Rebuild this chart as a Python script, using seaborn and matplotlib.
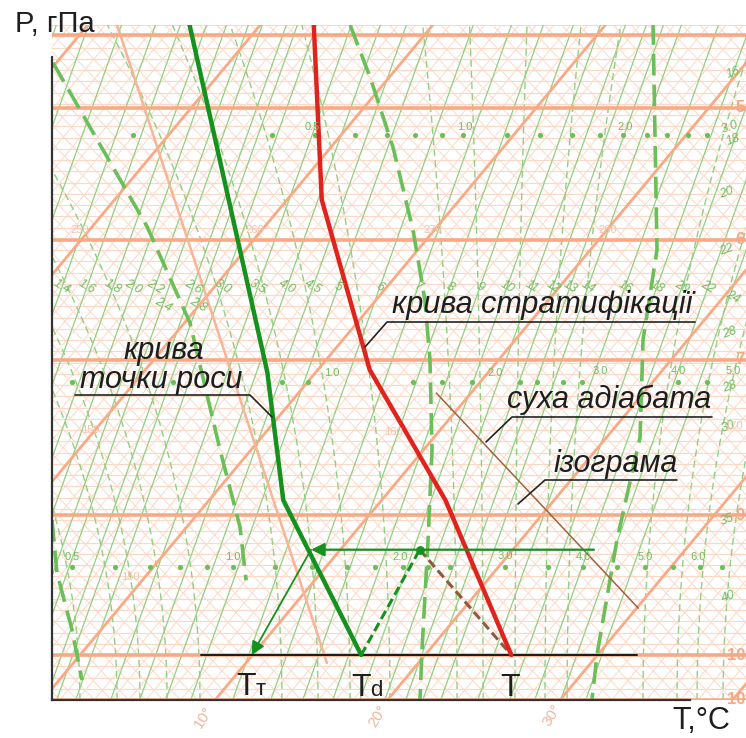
import numpy as np
import pandas as pd
import matplotlib
matplotlib.use("Agg")
import matplotlib.pyplot as plt
import seaborn as sns

# ---------------- diagram frame (temperature scale along bottom isobar, pressure) --------------
P_BOTTOM, P_TOP = 1050.0, 300.0
T_LEFT, T_RIGHT = 0.55, 40.78
SKEW = 0.0435      # isotherm tilt  (deg per hPa)
ADIAB = 0.0492     # dry adiabat tilt
ISOG = 0.0186      # isogram tilt

# ---------------- sounding ----------------
strat_p = [1000, 828, 683, 494, 300]
strat_T = [25.0, 13.7, 3.0, -8.0, -16.9]
dew_p = [1000, 828, 686, 300]
dew_T = [16.3, 4.3, -2.8, -24.1]

surface_p = 1000
surface_T = [7.0, 32.3]
T_val, Td_val, Tt_val = 25.0, 16.3, 9.95
lcl_p, lcl_T = 883, 14.6
arrow_T = [24.7, 8.3]
adiabat_p = [709, 948]
adiabat_T = [8.0, 30.1]

# ---------------- background grid values ----------------
isobar_thick = [311, 392, 539, 672, 844, 1000, 1050]
isotherm_thick = [-30, -20, -10, 0, 10, 20, 30, 40]
isogram_lab = ["1.4", "1.6", "1.8", "2.0", "2.2", "2.4", "2.6", "2.8", "3.0", "3.5", "4.0", "4.5",
               "5", "6", "7", "8", "9", "10", "11", "12", "13", "14", "16", "18", "20", "22", "24"]
isogram_x = [1.13, 2.58, 4.09, 5.25, 6.52, 7.33, 8.72, 9.36, 10.46, 12.49, 14.17, 15.68,
             17.13, 19.56, 21.77, 23.62, 25.36, 26.93, 28.38, 29.59, 30.58, 31.62, 33.77, 35.62,
             37.07, 38.58, 40.03]
isogram_extra_x = [-7.68, -6.23, -4.61, -2.75, -0.83]
ISOGRAM_P = 591

moist_thin_x = [2.17, 4.32, 5.65, 7.22, 9.13, 13.88, 15.97, 17.83, 20.14, 24.03, 25.54, 27.39,
                29.13, 30.41, 34.81, 36.78, 37.94, 39.45]
moist_a_x = [0.61, 6.06, 8.55, 10.29, 11.45, 11.80]
moist_a_p = [342, 524, 631, 772, 858, 917]
moist_b_x = [0.55, 0.84, 1.71, 2.29]
moist_b_p = [850, 909, 972, 1028]
moist_c_x = [17.83, 18.99, 20.32, 21.48, 22.17, 22.46, 22.58, 22.35, 22.00, 21.88]
moist_c_p = [300, 358, 436, 528, 606, 672, 772, 872, 994, 1050]
moist_d_x = [35.39, 35.62, 34.81, 34.64, 33.30, 32.14, 31.85]
moist_d_p = [298, 550, 650, 758, 872, 1000, 1050]
steep_x = [4.32, 16.49]
steep_p = [300, 1009]

dots_902 = [1.71, 4.20, 6.23, 7.97, 9.54, 11.04, 13.48, 15.62, 17.65, 19.27, 20.90, 22.35, 23.62,
            24.96, 26.81, 29.30, 31.33, 33.30, 34.93, 36.55, 38.12, 39.39]
dots_697 = [1.71, 7.56, 13.88, 15.39, 21.48, 23.16, 24.90, 27.68, 28.67, 30.17, 31.28, 36.84, 38.52]
dots_422 = [5.25, 13.30, 15.80, 18.12, 19.97, 21.59, 23.16, 24.38, 26.93, 28.84, 30.70, 32.32,
            33.65, 35.04, 36.20, 37.42, 38.52]

temp_ticks = ["10°", "20°", "30°"]


def xs(T, p):
    return np.asarray(T, float) + SKEW * (P_BOTTOM - np.asarray(p, float))


# ---------------- figure ----------------
sns.set_theme(style="white")
plt.rcParams["font.family"] = ["Liberation Sans", "DejaVu Sans"]
W, H = 746, 738
fig = plt.figure(figsize=(W / 100, H / 100), dpi=100)
fig.patch.set_facecolor("white")
ax = fig.add_axes([52 / W, 1 - 700 / H, (W - 52) / W, 675 / H])
ax.set_xlim(T_LEFT, T_RIGHT)
ax.set_ylim(P_BOTTOM, P_TOP)
ax.set_facecolor("white")
ax.set_xticks([])
ax.set_yticks([])


def fx(x):
    return x / W


def fy(y):
    return 1 - y / H


PALE = "#fbd9c8"
ORANGE = "#f7aa85"
GREEN_L = "#93cf83"
GREEN_M = "#6bbf59"

# pale isobars
for p in np.arange(300, 1051, 12.5):
    ax.axhline(p, color=PALE, lw=0.9, zorder=1)
# pale isotherms and dry adiabats (triangular mesh)
pp = np.array([P_BOTTOM, P_TOP])
for t in np.arange(-34, 42, 1.0):
    ax.plot(t + SKEW * (P_BOTTOM - pp), pp, color=PALE, lw=0.7, zorder=1)
for th in np.arange(0, 80, 1.0):
    ax.plot(th - ADIAB * (P_BOTTOM - pp), pp, color=PALE, lw=0.7, zorder=1)

# green isograms
for x0 in list(isogram_x) + isogram_extra_x:
    ax.plot(x0 + ISOG * (ISOGRAM_P - pp), pp, color=GREEN_L, lw=0.9, zorder=2)

# thin dashed moist adiabats
pl = np.linspace(P_BOTTOM, P_TOP, 40)
hh = (P_BOTTOM - pl) / (P_BOTTOM - P_TOP)
xc = 26.52
for xb in moist_thin_x:
    ax.plot(xb + (xb - xc) * 0.8 * hh ** 2, pl, color=GREEN_L, lw=1.0,
            dashes=(5, 3), zorder=2)

# thick isobars / isotherms / steep line
for p in isobar_thick:
    ax.axhline(p, color=ORANGE, lw=2.6, zorder=3)
for t in isotherm_thick:
    ax.plot(t + SKEW * (P_BOTTOM - pp), pp, color=ORANGE, lw=2.0, zorder=3)
ax.plot(steep_x, steep_p, color="#f7b497", lw=1.8, zorder=3)

# thick dashed moist adiabats
for mx, mp in [(moist_a_x, moist_a_p), (moist_b_x, moist_b_p),
               (moist_c_x, moist_c_p), (moist_d_x, moist_d_p)]:
    ax.plot(mx, mp, color=GREEN_M, lw=2.6, dashes=(6, 2.5), zorder=3)

# dot rows
for dots, p in [(dots_902, 902), (dots_697, 697), (dots_422, 422)]:
    ax.scatter(dots, [p] * len(dots), s=14, color=GREEN_M, zorder=4, linewidths=0)

# ---------------- sounding curves ----------------
df_s = pd.DataFrame({"x": xs(strat_T, strat_p), "p": strat_p})
df_d = pd.DataFrame({"x": xs(dew_T, dew_p), "p": dew_p})
sns.lineplot(data=df_s, x="x", y="p", sort=False, estimator=None, color="#e0231d", lw=3.2,
             ax=ax, zorder=8)
sns.lineplot(data=df_d, x="x", y="p", sort=False, estimator=None, color="#14911f", lw=3.2,
             ax=ax, zorder=8)
ax.set_xlim(T_LEFT, T_RIGHT)
ax.set_ylim(P_BOTTOM, P_TOP)
ax.set_xlabel("")
ax.set_ylabel("")

# surface line
ax.plot(xs(surface_T, [surface_p] * 2), [surface_p] * 2, color="#1a1a1a", lw=1.4, zorder=7)
# dry adiabat (thin brown)
ax.plot(xs(adiabat_T, adiabat_p), adiabat_p, color="#a0613a", lw=1.1, zorder=7)
# isogram from Td to LCL (dashed green) and adiabat LCL -> T (dashed brown)
ax.plot(xs([Td_val, lcl_T], [surface_p, lcl_p]), [surface_p, lcl_p], color="#14911f", lw=2.2,
        dashes=(3, 1.5), zorder=7)
ax.plot(xs([lcl_T, T_val], [lcl_p, surface_p]), [lcl_p, surface_p], color="#8c5a3c", lw=2.2,
        dashes=(3, 1.5), zorder=7)
ax.scatter(xs([lcl_T], [lcl_p]), [lcl_p], s=28, color="#14911f", zorder=9)
# arrows
ax.annotate("", xy=(xs(arrow_T[1], lcl_p), lcl_p), xytext=(xs(arrow_T[0], lcl_p), lcl_p),
            arrowprops=dict(arrowstyle="-|>", color="#14911f", lw=1.6, mutation_scale=20,
                            shrinkA=0, shrinkB=0), zorder=9)
ax.annotate("", xy=(xs(Tt_val, surface_p), surface_p), xytext=(xs(arrow_T[1], lcl_p), lcl_p),
            arrowprops=dict(arrowstyle="-|>", color="#14911f", lw=1.3, mutation_scale=20,
                            shrinkA=0, shrinkB=0), zorder=9)

# axes lines
for s in ["top", "right"]:
    ax.spines[s].set_visible(False)
ax.spines["left"].set_bounds(336, P_BOTTOM)
ax.spines["bottom"].set_bounds(T_LEFT, 37.54)
for s in ["left", "bottom"]:
    ax.spines[s].set_color("#333333")
    ax.spines[s].set_linewidth(1.6)
    ax.spines[s].set_zorder(10)

# ---------------- background text ----------------
GT = "#6dbd5d"
for lab, x0 in zip(isogram_lab, isogram_x):
    low = lab in ("2.4", "2.8")
    yy = 305 if low else (297 if lab == "24" else 287)
    px = 52 + (x0 - T_LEFT) * 17.25 + (0 if not low else -6)
    fig.text(fx(px), fy(yy), lab, color=GT, fontsize=9, style="italic", ha="center",
             va="center", rotation=-30, zorder=5)
for lab, px, py in [("16", 733, 73), ("3.0", 730, 127), ("18", 733, 140), ("20", 727, 193),
                    ("22", 727, 250), ("28", 730, 333), ("28", 730, 387), ("30", 728, 427),
                    ("35", 727, 520), ("40", 728, 597)]:
    fig.text(fx(px), fy(py), lab, color=GT, fontsize=9, style="italic", ha="center",
             va="center", rotation=20)
for lab, px, py in [("0.5", 72, 557), ("1.0", 233, 557), ("2.0", 400, 557), ("3.0", 505, 556),
                    ("4.0", 583, 557), ("5.0", 645, 557), ("6.0", 698, 557),
                    ("0.5", 312, 127), ("1.0", 465, 127), ("2.0", 625, 127),
                    ("1.0", 332, 373), ("2.0", 495, 373), ("3.0", 600, 371), ("4.0", 678, 371),
                    ("5.0", 733, 371)]:
    fig.text(fx(px), fy(py), lab, color=GT, fontsize=8, ha="center", va="center")
ST = "#f5c3ad"
for lab, px, py in [("250", 80, 230), ("260", 255, 230), ("270", 433, 230), ("280", 608, 230),
                    ("150", 90, 430), ("160", 393, 432), ("170", 733, 426), ("150", 130, 577)]:
    fig.text(fx(px), fy(py), lab, color=ST, fontsize=8, ha="center", va="center")
for lab, py in [("5", 108), ("6", 240), ("7", 360), ("9", 515), ("10", 655), ("10", 700)]:
    fig.text(fx(745), fy(py), lab, color="#f4a884", fontsize=12, fontweight="bold",
             ha="right", va="center")
for lab, px, py in zip(temp_ticks, [204, 378, 552], [717, 716, 715]):
    fig.text(fx(px), fy(py), lab, color="#f2b59b", fontsize=11, ha="center", va="center",
             rotation=58, rotation_mode="anchor")

# ---------------- labels ----------------
TXT = "#1e1e1e"
fig.text(fx(15), fy(32), "P, гПа", fontsize=21, color=TXT, ha="left", va="baseline")
fig.text(fx(672), fy(729), "T,°C", fontsize=22, color=TXT, ha="left", va="baseline")
fig.text(fx(236), fy(695), "T", fontsize=23, color=TXT, ha="left", va="baseline")
fig.text(fx(256), fy(695), "т", fontsize=16, color=TXT, ha="left", va="baseline")
fig.text(fx(351), fy(696), "T", fontsize=23, color=TXT, ha="left", va="baseline")
fig.text(fx(370), fy(696), "d", fontsize=16, color=TXT, ha="left", va="baseline")
fig.text(fx(500), fy(696), "T", fontsize=23, color=TXT, ha="left", va="baseline")

ital = dict(fontsize=22, color=TXT, style="italic", ha="left", va="baseline", zorder=12)
fig.text(fx(123), fy(359), "крива", **ital)
fig.text(fx(80), fy(388), "точки роси", **ital)
fig.text(fx(392), fy(313), "крива стратифікації", **ital)
fig.text(fx(507), fy(408), "суха адіабата", **ital)
fig.text(fx(553), fy(472), "ізограма", **ital)

leaders = [
    [(75, 395), (250, 395), (272, 417)],
    [(695, 322), (387, 322), (365, 347)],
    [(712, 417), (512, 417), (486, 442)],
    [(677, 480), (545, 480), (518, 504)],
]
for seg in leaders:
    xs_ = [fx(a) for a, b in seg]
    ys_ = [fy(b) for a, b in seg]
    fig.add_artist(plt.Line2D(xs_, ys_, color="#222222", lw=1.2, zorder=12))

fig.savefig("out.png", dpi=100, facecolor="white")
